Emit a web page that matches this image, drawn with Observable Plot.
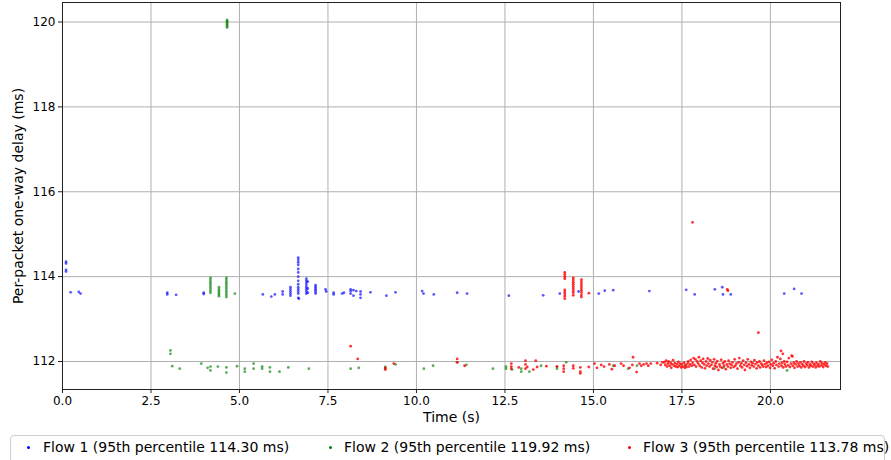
<!DOCTYPE html>
<html>
<head>
<meta charset="utf-8">
<script src="https://cdn.jsdelivr.net/npm/d3@7"></script>
<script src="https://cdn.jsdelivr.net/npm/@observablehq/plot@0.6"></script>
<style>
  body { margin: 0; background: white; font-family: "DejaVu Sans", sans-serif; }
  #chart { position: relative; width: 891px; height: 430px; }
  #legend { position: absolute; left: 10px; top: 435px; width: 875px; height: 30px;
            border: 1px solid #cccccc; border-radius: 4px; box-sizing: border-box; background: white; }
  .item { position: absolute; top: 3px; font-size: 14px; color: #000; white-space: nowrap; }
  .sw { position: absolute; top: 10px; width: 3px; height: 3px; border-radius: 50%; }
</style>
</head>
<body>
<div id="chart"></div>
<div id="legend"></div>
<script>
// ---- Data ----
const xTicks = [0, 2.5, 5, 7.5, 10, 12.5, 15, 17.5, 20];
const yTicks = [112, 114, 116, 118, 120];
const legendLabels = [
  "Flow 1 (95th percentile 114.30 ms)",
  "Flow 2 (95th percentile 119.92 ms)",
  "Flow 3 (95th percentile 113.78 ms)"
];
const flowColors = ["blue", "green", "red"];

// Flow 1 (blue) [time s, delay ms]
const flow1 = [
  [0.1,114.35],[0.1,114.31],[0.1,114.16],[0.1,114.12],[0.23,113.63],[0.46,113.64],[0.51,113.6],
  [2.96,113.62],[2.96,113.58],[3.21,113.57],[3.99,113.59],[3.99,113.62],[5.66,113.58],[5.9,113.53],[6.0,113.58],
  [6.22,113.65],[6.22,113.58],[6.44,113.55],[6.44,113.6],[6.44,113.65],[6.44,113.7],[6.44,113.75],
  [6.66,114.45],[6.66,114.4],[6.66,114.34],[6.66,114.28],[6.66,114.18],[6.66,114.1],[6.66,114.0],[6.66,113.9],
  [6.66,113.82],[6.66,113.75],[6.66,113.7],[6.66,113.65],[6.66,113.6],[6.66,113.5],[6.68,113.48],
  [6.89,113.95],[6.89,113.9],[6.89,113.85],[6.89,113.8],[6.89,113.75],[6.89,113.7],[6.89,113.65],[6.89,113.6],
  [6.93,113.88],[6.93,113.72],[6.93,113.62],
  [7.15,113.8],[7.15,113.76],[7.15,113.72],[7.15,113.68],[7.15,113.64],[7.15,113.6],
  [7.43,113.7],[7.45,113.65],[7.66,113.62],[7.66,113.58],[7.9,113.6],[7.95,113.62],
  [8.14,113.7],[8.14,113.66],[8.14,113.6],[8.22,113.68],[8.22,113.55],[8.3,113.66],
  [8.42,113.65],[8.42,113.58],[8.42,113.5],[8.7,113.63],[9.15,113.55],[9.41,113.63],
  [10.16,113.66],[10.2,113.6],[10.49,113.58],[11.15,113.62],[11.43,113.6],[12.61,113.55],
  [13.58,113.56],[14.05,113.6],[14.58,113.65],[15.15,113.6],[15.32,113.67],[15.56,113.68],
  [16.58,113.66],[17.62,113.69],[17.86,113.58],[18.43,113.7],[18.64,113.75],[18.66,113.58],
  [18.88,113.58],[20.39,113.6],[20.67,113.71],[20.88,113.6]
];

// Flow 2 (green)
const flow2 = [
  [4.65,120.05],[4.65,120.02],[4.65,119.99],[4.65,119.96],[4.65,119.93],[4.65,119.9],[4.65,119.87],
  [4.18,113.97],[4.18,113.92],[4.18,113.87],[4.18,113.82],[4.18,113.77],[4.18,113.72],[4.18,113.67],[4.18,113.62],
  [4.42,113.75],[4.42,113.7],[4.42,113.66],[4.42,113.62],[4.42,113.58],[4.42,113.54],
  [4.63,113.97],[4.63,113.92],[4.63,113.87],[4.63,113.82],[4.63,113.77],[4.63,113.72],[4.63,113.67],[4.63,113.62],[4.63,113.57],[4.63,113.52],
  [4.87,113.6],
  [3.05,112.26],[3.05,112.18],[3.1,111.89],[3.31,111.83],[3.92,111.95],[4.1,111.85],[4.18,111.88],[4.18,111.79],
  [4.39,111.88],[4.63,111.86],[4.63,111.74],[4.93,111.89],[5.15,111.83],[5.15,111.76],[5.4,111.95],[5.4,111.83],
  [5.64,111.88],[5.64,111.83],[5.86,111.86],[5.86,111.76],[6.13,111.76],[6.38,111.86],
  [6.96,111.83],[8.14,111.83],[8.37,111.85],[9.12,111.87],[9.12,111.83],[9.41,111.93],[10.21,111.83],[10.47,111.9],
  [11.15,111.98],[11.41,111.92],[12.16,111.83],[12.53,111.88],[12.53,111.83],[12.7,111.81],[12.96,111.83],[12.96,111.76],
  [13.19,111.76],[13.52,111.9],[13.97,111.88],[13.97,111.83],[14.23,111.98],
  [15.56,111.9],[15.98,111.83],[16.23,111.9],[17.6,111.9],[18.42,111.83],[18.68,111.86],[20.47,111.79]
];

// Flow 3 (red)
const flow3 = [
  [8.14,112.36],[8.34,112.06],[9.12,111.85],[9.12,111.81],[9.36,111.95],[11.15,112.06],[11.15,111.98],[11.36,111.9],
  [12.68,111.95],[12.68,111.88],[12.68,111.83],[12.89,111.86],[13.08,112.02],[13.08,111.93],[13.08,111.83],[13.13,111.87],
  [13.3,111.81],[13.37,112.02],[13.41,111.87],[13.67,111.89],[13.97,111.88],[14.16,111.9],[14.16,111.83],[14.16,111.76],
  [14.43,111.9],[14.43,111.84],[14.63,111.86],[14.63,111.76],[14.63,111.72],[14.87,111.87],
  [14.19,114.1],[14.19,114.05],[14.19,114.0],[14.19,113.95],[14.19,113.69],[14.19,113.64],[14.19,113.59],[14.19,113.54],[14.19,113.48],
  [14.43,113.97],[14.43,113.92],[14.43,113.87],[14.43,113.82],[14.43,113.77],[14.43,113.72],[14.43,113.67],[14.43,113.62],[14.43,113.56],
  [14.66,113.93],[14.66,113.88],[14.66,113.83],[14.66,113.78],[14.66,113.73],[14.66,113.68],[14.66,113.63],[14.66,113.57],[14.66,113.52],
  [14.87,113.61],
  [17.8,115.28],[18.8,113.67],[18.78,113.7],[19.66,112.68],[20.3,112.25],[20.35,112.18],[20.62,112.12],
  [15.03,111.95],[15.1,111.85],[15.22,111.92],[15.3,111.88],[15.45,111.93],[15.52,111.82],[15.6,111.9],[15.78,111.95],
  [15.85,111.9],[16.12,112.1],[16.02,111.85],[16.1,111.92],[16.22,111.75],[16.3,111.95],[16.35,111.9],[16.42,111.93],
  [16.5,111.95],[16.55,111.9],[16.62,111.95],[16.8,111.96],[16.9,111.92],[16.95,111.98],
  [17.0,111.98],[17.03,111.92],[17.05,112.02],[17.08,111.88],[17.1,111.95],[17.12,112.0],[17.15,111.9],[17.18,111.97],
  [17.2,111.85],[17.22,111.93],[17.25,112.03],[17.28,111.9],[17.3,111.96],[17.33,111.88],[17.36,111.94],[17.38,111.87],
  [17.4,111.99],[17.43,111.9],[17.45,111.95],[17.48,111.86],[17.5,111.93],[17.53,111.88],[17.56,111.97],[17.58,111.85],
  [17.6,111.92],[17.63,111.87],[17.66,111.95],[17.68,112.0],[17.7,111.88],[17.73,111.93],[17.75,112.04],[17.78,111.9],
  [17.8,111.97],[17.83,112.08],[17.85,111.92],[17.88,112.05],[17.9,111.88],[17.93,112.0],[17.96,111.95],[17.98,112.1],
  [18.0,111.9],[18.03,112.02],[18.06,111.86],[18.08,111.97],[18.1,112.06],[18.13,111.93],[18.15,111.84],[18.18,112.0],
  [18.2,111.9],[18.23,112.07],[18.25,111.95],[18.28,111.88],[18.3,112.03],[18.33,111.92],[18.36,111.98],[18.38,111.83],
  [18.41,112.05],[18.43,111.9],[18.46,111.96],[18.48,111.87],[18.5,112.01],[18.53,111.8],[18.56,111.93],[18.58,111.88],
  [18.61,112.04],[18.63,111.85],[18.66,111.96],[18.69,111.9],[18.71,112.0],[18.74,111.82],[18.77,111.93],[18.8,111.88],
  [18.82,112.02],[18.85,111.95],[18.88,111.85],[18.9,111.92],[18.93,111.98],[18.96,111.87],[18.99,112.05],[19.01,111.9],
  [19.04,111.95],[19.07,111.83],[19.1,111.98],[19.12,112.08],[19.15,111.9],[19.18,111.96],[19.2,111.86],[19.23,112.02],
  [19.26,111.92],[19.28,111.8],[19.31,111.97],[19.34,111.89],[19.36,112.05],[19.39,111.93],[19.42,111.85],[19.45,111.99],
  [19.47,111.91],[19.5,111.96],[19.53,111.88],[19.55,112.03],[19.58,111.94],[19.61,111.84],[19.63,111.98],[19.66,111.9],
  [19.69,112.0],[19.71,111.86],[19.74,111.95],[19.77,111.92],[19.8,111.88],[19.82,112.02],[19.85,111.94],[19.88,111.87],
  [19.9,111.97],[19.93,111.9],[19.96,111.99],[19.99,111.85],[20.01,111.93],[20.04,112.04],[20.07,111.9],[20.09,111.96],
  [20.12,111.84],[20.15,112.0],[20.17,111.92],[20.2,112.1],[20.23,111.88],[20.25,111.95],[20.28,112.06],[20.31,111.9],
  [20.33,111.97],[20.36,111.86],[20.39,112.0],[20.41,111.93],[20.44,111.88],[20.47,111.99],[20.5,111.91],[20.52,112.08],
  [20.55,111.87],[20.58,111.95],[20.6,112.14],[20.63,111.9],[20.66,111.97],[20.68,111.85],[20.71,111.93],[20.74,112.0],
  [20.77,111.88],[20.79,111.95],[20.82,111.9],[20.85,111.98],[20.87,111.86],[20.9,111.94],[20.93,111.9],[20.95,112.0],
  [20.98,111.87],[21.01,111.95],[21.04,111.91],[21.06,111.98],[21.09,111.86],[21.12,111.93],[21.14,111.9],[21.17,111.99],
  [21.2,111.88],[21.22,111.95],[21.25,111.92],[21.28,111.86],[21.3,111.97],[21.33,111.9],[21.36,111.94],[21.38,111.88],
  [21.41,112.0],[21.44,111.91],[21.46,111.96],[21.49,111.87],[21.52,111.93],[21.55,111.98],[21.57,111.9],[21.6,111.95],[21.62,111.88]
];

const flows = [flow1, flow2, flow3];
const opac = [0.65, 0.65, 0.8];

const dotMarks = flows.map((f, i) => Plot.dot(f, {
  x: d => d[0], y: d => d[1], r: 1.4, fill: flowColors[i], fillOpacity: opac[i], stroke: "none"
}));

const chart = Plot.plot({
  width: 891,
  height: 430,
  marginLeft: 62,
  marginRight: 51,
  marginTop: 2,
  marginBottom: 41,
  style: { fontFamily: "DejaVu Sans, sans-serif", fontSize: "12px", background: "white", color: "#000" },
  x: { domain: [0, 21.98] },
  y: { domain: [111.34, 120.46] },
  marks: [
    Plot.gridX(xTicks, { stroke: "#b0b0b0", strokeOpacity: 1, strokeWidth: 1 }),
    Plot.gridY(yTicks, { stroke: "#b0b0b0", strokeOpacity: 1, strokeWidth: 1 }),
    ...dotMarks,
    Plot.frame({ stroke: "#222", strokeWidth: 1 }),
    Plot.axisX(xTicks, { tickFormat: d => d.toFixed(1), tickSize: 4, tickPadding: 3, label: null, stroke: "#222", fill: "#000" }),
    Plot.axisY(yTicks, { tickFormat: d => String(d), tickSize: 4, tickPadding: 3, label: null, stroke: "#222", fill: "#000" }),
    Plot.text(["Time (s)"], { text: d => d, frameAnchor: "bottom", dy: 32, fontSize: 14, fill: "#000", textAnchor: "middle" }),
    Plot.text(["Per-packet one-way delay (ms)"], { text: d => d, frameAnchor: "left", dx: -44, rotate: -90, fontSize: 14, fill: "#000", textAnchor: "middle" })
  ]
});
document.getElementById("chart").appendChild(chart);

// Legend
const legend = document.getElementById("legend");
const swX = [16, 318, 617];
const txX = [32, 333, 632];
legendLabels.forEach((lab, i) => {
  const sw = document.createElement("span");
  sw.className = "sw";
  sw.style.left = swX[i] + "px";
  sw.style.background = flowColors[i];
  legend.appendChild(sw);
  const t = document.createElement("span");
  t.className = "item";
  t.style.left = txX[i] + "px";
  t.textContent = lab;
  legend.appendChild(t);
});
</script>
</body>
</html>
